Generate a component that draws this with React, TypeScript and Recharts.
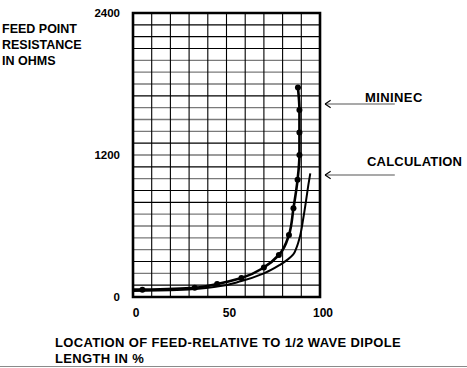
import React from "react";
import {
  LineChart,
  Line,
  XAxis,
  YAxis,
  CartesianGrid,
  ReferenceArea,
  ReferenceLine,
} from "recharts";

// Feed-point resistance (ohms) vs. feed location (% of half-wave dipole length)
const mininecData = [
  { x: 0, y: 62 },
  { x: 5, y: 62 },
  { x: 33, y: 78 },
  { x: 45, y: 110 },
  { x: 58, y: 160 },
  { x: 70, y: 250 },
  { x: 78, y: 355 },
  { x: 83.4, y: 525 },
  { x: 85.8, y: 750 },
  { x: 88, y: 990 },
  { x: 89, y: 1200 },
  { x: 89, y: 1390 },
  { x: 89, y: 1580 },
  { x: 88.2, y: 1770 },
];

const calculationData = [
  { x: 0, y: 50 },
  { x: 20, y: 56 },
  { x: 35, y: 70 },
  { x: 45, y: 88 },
  { x: 58, y: 135 },
  { x: 70, y: 200 },
  { x: 78.4, y: 270 },
  { x: 83, y: 320 },
  { x: 85.7, y: 360 },
  { x: 87.5, y: 420 },
  { x: 89.4, y: 520 },
  { x: 91.2, y: 678 },
  { x: 92.6, y: 820 },
  { x: 93.8, y: 950 },
  { x: 94.8, y: 1045 },
];

const xTicks = [0, 50, 100];
const yTicks = [0, 1200, 2400];
const verticalGrid = [10, 20, 30, 40, 50, 60, 70, 80, 90];
const darkHorizontal = [2300, 2200, 2100, 1700, 1300, 1100, 900, 800, 300, 100];
const grayHorizontal = [2000, 1900, 1800, 1600, 1500, 1400, 1200, 1000, 700, 600, 500, 400, 200];

const yTitleLines = ["FEED POINT", "RESISTANCE", "IN OHMS"];
const xTitleLines = ["LOCATION OF FEED-RELATIVE TO 1/2 WAVE DIPOLE", "LENGTH IN %"];

const annotations = [
  { name: "MININEC", y: 1631 },
  { name: "CALCULATION", y: 1031 },
];
const arrowStartX = 102.7;
const arrowEndX = 140;

const FONT = "'Liberation Sans', Arial, Helvetica, sans-serif";

const MininecDot = (props: any) => {
  const { cx, cy, index } = props;
  if (index === 0) return <g key={`d-${index}`} />;
  return <circle key={`d-${index}`} cx={cx} cy={cy} r={3} fill="#000" stroke="none" />;
};

export default function App() {
  return (
    <div
      style={{
        position: "absolute",
        left: 0,
        top: 0,
        width: 467,
        height: 368,
        background: "#fff",
        fontFamily: FONT,
      }}
    >
      <LineChart
        width={467}
        height={368}
        margin={{ top: 13, right: 147, bottom: 41, left: 73 }}
        style={{ fontFamily: FONT }}
      >
        <CartesianGrid
          horizontalValues={grayHorizontal}
          vertical={false}
          stroke="#7a7a7a"
          strokeWidth={1.3}
          strokeDasharray=""
        />
        <CartesianGrid
          horizontalValues={darkHorizontal}
          verticalValues={verticalGrid}
          stroke="#000"
          strokeWidth={1.1}
          strokeDasharray=""
        />
        <XAxis
          type="number"
          dataKey="x"
          domain={[0, 100]}
          ticks={xTicks}
          axisLine={false}
          tickLine={false}
          tickSize={6}
          tickMargin={5}
          height={30}
          interval={0}
          allowDataOverflow
          tick={{ fontSize: 12, fontWeight: "bold", fill: "#000", fontFamily: FONT, dx: 3 }}
        />
        <YAxis
          type="number"
          dataKey="y"
          domain={[0, 2400]}
          ticks={yTicks}
          axisLine={false}
          tickLine={false}
          tickSize={6}
          tickMargin={7}
          width={60}
          interval={0}
          allowDataOverflow
          tick={{ fontSize: 11.5, fontWeight: "bold", fill: "#000", fontFamily: FONT }}
        />
        <ReferenceArea
          x1={0}
          x2={100}
          y1={0}
          y2={2400}
          fill="none"
          stroke="#000"
          strokeWidth={2.6}
          ifOverflow="visible"
        />
        <Line
          data={calculationData}
          dataKey="y"
          type="monotoneY"
          stroke="#000"
          strokeWidth={2}
          dot={false}
          activeDot={false}
          isAnimationActive={false}
        />
        <Line
          data={mininecData}
          dataKey="y"
          type="monotoneY"
          stroke="#000"
          strokeWidth={2.6}
          dot={MininecDot}
          activeDot={false}
          isAnimationActive={false}
        />
        {annotations.map((a) => (
          <ReferenceLine
            key={`line-${a.name}`}
            segment={[
              { x: arrowStartX, y: a.y },
              { x: arrowEndX, y: a.y },
            ]}
            stroke="#555"
            strokeWidth={1.2}
            ifOverflow="visible"
          />
        ))}
        {annotations.map((a) => (
          <ReferenceLine
            key={`head1-${a.name}`}
            segment={[
              { x: arrowStartX, y: a.y },
              { x: arrowStartX + 3, y: a.y + 32 },
            ]}
            stroke="#000"
            strokeWidth={1.1}
            ifOverflow="visible"
          />
        ))}
        {annotations.map((a) => (
          <ReferenceLine
            key={`head2-${a.name}`}
            segment={[
              { x: arrowStartX, y: a.y },
              { x: arrowStartX + 3, y: a.y - 32 },
            ]}
            stroke="#000"
            strokeWidth={1.1}
            ifOverflow="visible"
          />
        ))}
      </LineChart>

      {yTitleLines.map((t, i) => (
        <div
          key={t}
          style={{
            position: "absolute",
            left: 2,
            top: 21 + i * 16,
            fontSize: 12.5,
            fontWeight: "bold",
            lineHeight: "16px",
            color: "#000",
            whiteSpace: "nowrap",
          }}
        >
          {t}
        </div>
      ))}

      {xTitleLines.map((t, i) => (
        <div
          key={t}
          style={{
            position: "absolute",
            left: 55,
            top: 335 + i * 16,
            fontSize: 13,
            fontWeight: "bold",
            lineHeight: "16px",
            letterSpacing: 0.35,
            color: "#000",
            whiteSpace: "nowrap",
          }}
        >
          {t}
        </div>
      ))}

      <div
        style={{
          position: "absolute",
          left: 365,
          top: 90,
          fontSize: 13,
          fontWeight: "bold",
          lineHeight: "16px",
          letterSpacing: 0.4,
          color: "#000",
          whiteSpace: "nowrap",
        }}
      >
        {annotations[0].name}
      </div>
      <div
        style={{
          position: "absolute",
          left: 367,
          top: 154,
          fontSize: 13,
          fontWeight: "bold",
          lineHeight: "16px",
          letterSpacing: 0.2,
          color: "#000",
          whiteSpace: "nowrap",
        }}
      >
        {annotations[1].name}
      </div>

      <div
        style={{
          position: "absolute",
          left: 0,
          top: 366,
          width: 467,
          height: 0,
          borderTop: "1.5px solid #8a8a8a",
        }}
      />
    </div>
  );
}
